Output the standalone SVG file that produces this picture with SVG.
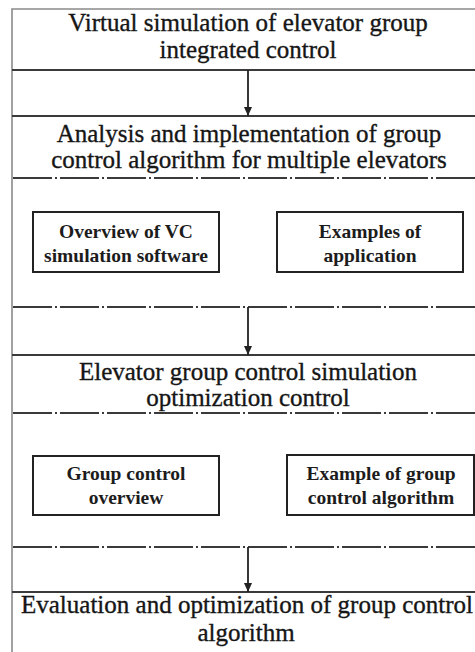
<svg xmlns="http://www.w3.org/2000/svg" width="475" height="652" viewBox="0 0 475 652">
  <style>
    .frame { fill: none; stroke: #8a8a8a; stroke-width: 1.6; }
    .rule { stroke: #3a3a3a; stroke-width: 2; }
    .dashrule { stroke: #3a3a3a; stroke-width: 2; stroke-dasharray: 39 3 2 3; }
    .box { fill: #ffffff; stroke: #222222; stroke-width: 2; }
    .head { font-family: "Liberation Serif", "Times New Roman", serif; font-size: 25px; fill: #161616; stroke: #161616; stroke-width: 0.35; text-anchor: middle; }
    .label { font-family: "Liberation Serif", "Times New Roman", serif; font-size: 19.5px; font-weight: bold; fill: #1c1c1c; text-anchor: middle; }
    .arrow { stroke: #222222; stroke-width: 1.8; fill: none; marker-end: url(#head); }
  </style>
  <defs>
    <marker id="head" markerWidth="9" markerHeight="8" refX="9" refY="4" orient="auto" markerUnits="userSpaceOnUse">
      <path d="M0,0 L9,4 L0,8 Z" fill="#222222"/>
    </marker>
  </defs>

  <rect width="475" height="652" fill="#ffffff"/>

  <!-- outer frame and section rules -->
  <g id="frame">
    <path class="frame" d="M12,652 V9 H475"/>
    <line class="rule" x1="12" y1="70" x2="475" y2="70"/>
    <line class="rule" x1="12" y1="116" x2="475" y2="116"/>
    <line class="dashrule" x1="13" y1="178" x2="475" y2="178"/>
    <line class="dashrule" x1="13" y1="307" x2="475" y2="307"/>
    <line class="rule" x1="12" y1="355" x2="475" y2="355"/>
    <line class="dashrule" x1="13" y1="413" x2="475" y2="413"/>
    <line class="dashrule" x1="13" y1="547" x2="475" y2="547"/>
    <line class="rule" x1="12" y1="592" x2="475" y2="592"/>
  </g>

  <!-- stage headings -->
  <g id="stage1">
    <text class="head" x="248" y="31">Virtual simulation of elevator group</text>
    <text class="head" x="248" y="58">integrated control</text>
  </g>
  <g id="stage2">
    <text class="head" x="249" y="142">Analysis and implementation of group</text>
    <text class="head" x="249" y="168">control algorithm for multiple elevators</text>
  </g>
  <g id="stage3">
    <text class="head" x="248" y="380">Elevator group control simulation</text>
    <text class="head" x="248" y="406">optimization control</text>
  </g>
  <g id="stage4">
    <text class="head" x="247" y="613">Evaluation and optimization of group control</text>
    <text class="head" x="246" y="641">algorithm</text>
  </g>

  <!-- sub-topic boxes -->
  <g id="vc-overview">
    <rect class="box" x="33" y="212" width="186" height="60"/>
    <text class="label" x="126" y="238">Overview of VC</text>
    <text class="label" x="126" y="262">simulation software</text>
  </g>
  <g id="examples-application">
    <rect class="box" x="277" y="212" width="186" height="60"/>
    <text class="label" x="370" y="238">Examples of</text>
    <text class="label" x="370" y="262">application</text>
  </g>
  <g id="group-control-overview">
    <rect class="box" x="33" y="456" width="186" height="59"/>
    <text class="label" x="126" y="480">Group control</text>
    <text class="label" x="126" y="504">overview</text>
  </g>
  <g id="group-control-example">
    <rect class="box" x="287" y="455" width="187" height="60"/>
    <text class="label" x="381" y="480">Example of group</text>
    <text class="label" x="381" y="504">control algorithm</text>
  </g>

  <!-- flow arrows -->
  <g id="connectors">
    <line class="arrow" x1="248" y1="70" x2="248" y2="116"/>
    <line class="arrow" x1="248" y1="307" x2="248" y2="355"/>
    <line class="arrow" x1="248" y1="547" x2="248" y2="592"/>
  </g>
</svg>
